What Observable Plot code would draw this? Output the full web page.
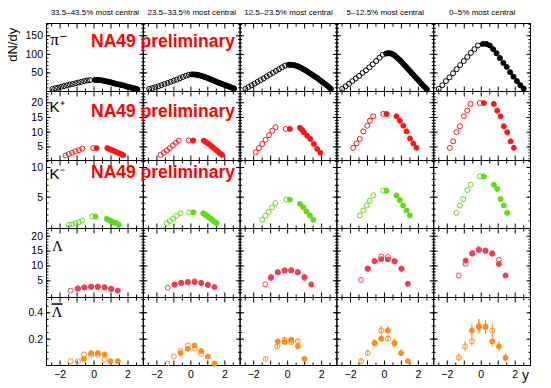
<!DOCTYPE html>
<html>
<head>
<meta charset="utf-8">
<script src="https://cdn.jsdelivr.net/npm/d3@7"></script>
<script src="https://cdn.jsdelivr.net/npm/@observablehq/plot@0.6"></script>
<style>
  body { margin: 0; background: #fff; font-family: "Liberation Sans", Arial, sans-serif; }
  #chart { width: 551px; height: 388px; }
  #chart svg { display: block; }
</style>
</head>
<body>
<div id="chart"></div>
<script>
// ---------- categories & tick labels ----------
const centralities = ["33.5–43.5% most central", "23.5–33.5% most central", "12.5–23.5% most central", "5–12.5% most central", "0–5% most central"];
const xTickLabels = [-2, 0, 2];
const xMajorTicks = [-2, -1, 0, 1, 2];
const xMinorTicks = [-2.5, -1.5, -0.5, 0.5, 1.5, 2.5];
const pimTicks = [50, 100, 150];
const kpTicks = [5, 10, 15, 20];
const kmTicks = [5, 10];
const lamTicks = [5, 10, 15, 20];
const albTicks = [0.2, 0.4];

// ---------- pi- : [y, dN/dy] per centrality ----------
const pimOpen = [
  [[-2.45,7],[-2.28,9],[-2.11,10.5],[-1.94,12.5],[-1.77,14.5],[-1.6,16.5],[-1.43,18.5],[-1.26,20],[-1.09,22],[-0.92,24],[-0.75,26],[-0.58,28],[-0.41,29.5],[-0.24,30.5]],
  [[-2.45,7],[-2.27,9],[-2.09,11.5],[-1.91,14],[-1.73,17],[-1.55,20],[-1.37,23],[-1.19,26],[-1.01,29],[-0.83,32],[-0.65,35.5],[-0.47,39],[-0.29,42.5],[-0.12,45]],
  [[-2.49,7],[-2.31,12],[-2.13,16.5],[-1.95,21],[-1.77,26],[-1.59,30.5],[-1.41,35.5],[-1.23,40.5],[-1.05,45.5],[-0.87,50.5],[-0.69,55.5],[-0.51,60],[-0.33,65],[-0.15,69.5]],
  [[-2.49,7],[-2.29,14],[-2.09,21],[-1.89,28],[-1.69,35],[-1.49,42],[-1.29,50],[-1.09,57],[-0.89,65],[-0.69,73],[-0.49,82],[-0.29,91],[-0.1,99]],
  [[-2.5,7],[-2.29,17],[-2.08,28],[-1.87,38],[-1.66,49],[-1.45,60],[-1.24,71],[-1.03,82],[-0.82,93],[-0.61,104],[-0.4,114],[-0.19,124]]
];
const pimFilled = [
  [[0.05,31],[0.15,31],[0.25,31],[0.35,30.5],[0.45,30],[0.55,29],[0.65,28],[0.75,27],[0.85,26],[0.95,25],[1.05,24],[1.15,22.5],[1.25,21],[1.35,20],[1.45,19],[1.55,18],[1.65,17],[1.75,16],[1.85,14.5],[1.95,13],[2.05,12],[2.15,11],[2.25,9.5],[2.35,8.5],[2.45,7.5],[2.55,6]],
  [[0.05,46],[0.15,46],[0.25,45.5],[0.35,45],[0.45,44],[0.55,43],[0.65,41.5],[0.75,40],[0.85,38.5],[0.95,37],[1.05,35],[1.15,33],[1.25,31],[1.35,29.5],[1.45,27.5],[1.55,25.5],[1.65,23.5],[1.75,22],[1.85,20],[1.95,18.5],[2.05,16.5],[2.15,15],[2.25,13],[2.35,11.5],[2.45,9.5],[2.55,8]],
  [[0.05,72],[0.15,72],[0.25,71.5],[0.35,71],[0.45,70],[0.55,68.5],[0.65,66.5],[0.75,64.5],[0.85,62],[0.95,59.5],[1.05,57],[1.15,54],[1.25,51],[1.35,48],[1.45,45],[1.55,42],[1.65,39],[1.75,36],[1.85,32.5],[1.95,29],[2.05,25.5],[2.15,22],[2.25,18.5],[2.35,15],[2.45,11],[2.55,7]],
  [[0.1,102],[0.2,103],[0.3,103],[0.4,102],[0.5,100],[0.6,97],[0.7,93],[0.8,89],[0.9,85],[1.0,80],[1.1,75],[1.2,70],[1.3,65],[1.4,60],[1.5,55],[1.6,50],[1.7,45],[1.8,40],[1.9,35],[2.0,30],[2.1,25],[2.2,20],[2.3,15],[2.4,11],[2.5,6]],
  [[0.1,128],[0.3,128],[0.5,124],[0.7,114],[0.9,103],[1.1,90],[1.3,77],[1.5,66],[1.7,52],[1.9,40],[2.1,28],[2.3,17],[2.5,8]]
];

// ---------- K+ ----------
const kpOpen = [
  [[-1.68,2.1],[-1.49,2.6],[-1.29,3.0],[-1.09,3.5],[-0.89,3.9],[-0.69,4.4],[-0.05,4.6]],
  [[-1.78,2.3],[-1.6,3.0],[-1.42,3.8],[-1.24,4.6],[-1.06,5.5],[-0.88,6.4],[-0.71,7.1],[-0.12,7.2]],
  [[-1.88,3.2],[-1.69,4.6],[-1.5,6.0],[-1.3,7.4],[-1.1,9.0],[-0.9,10.5],[-0.71,11.7],[-0.12,11.1]],
  [[-1.84,4.7],[-1.64,6.2],[-1.45,7.7],[-1.25,10.3],[-1.01,12.2],[-0.86,13.9],[-0.66,15.4],[-0.07,16.2]],
  [[-1.85,4.7],[-1.65,6.9],[-1.46,10],[-1.26,12],[-1.02,15.4],[-0.82,17.3],[-0.63,19.6],[-0.08,19.9]]
];
const kpFilled = [
  [[0.15,4.6],[0.78,4.6],[0.9,4.3],[1.02,4.0],[1.14,3.7],[1.26,3.4],[1.38,3.1],[1.5,2.8],[1.62,2.5],[1.72,2.2]],
  [[0.14,7.2],[0.76,7.1],[0.88,6.7],[1.0,6.2],[1.12,5.7],[1.24,5.1],[1.36,4.6],[1.48,4.0],[1.6,3.4],[1.72,2.8],[1.84,2.3]],
  [[0.13,11.1],[0.72,11.5],[0.85,10.8],[0.95,10.0],[1.15,8.8],[1.34,7.7],[1.54,6.0],[1.74,4.3],[1.93,3.0]],
  [[0.12,16.2],[0.71,15.4],[0.91,13.9],[1.11,12.2],[1.3,10.3],[1.5,7.9],[1.7,6.2],[1.89,4.7]],
  [[0.15,19.9],[0.74,19.6],[0.94,17.3],[1.14,15.4],[1.33,12],[1.53,10],[1.73,6.9],[1.92,4.7]]
];

// ---------- K- ----------
const kmOpen = [
  [[-1.48,0.35],[-1.28,0.45],[-1.09,0.62],[-0.9,0.8],[-0.69,1.08],[-0.1,1.75]],
  [[-1.43,0.62],[-1.24,1.0],[-1.04,1.4],[-0.84,1.85],[-0.61,2.3],[-0.1,2.45]],
  [[-1.5,1.2],[-1.31,1.9],[-1.11,2.5],[-0.91,3.3],[-0.72,4.0],[-0.07,4.6]],
  [[-1.45,1.92],[-1.25,2.76],[-1.05,3.6],[-0.86,4.4],[-0.66,5.3],[-0.07,6.1]],
  [[-1.45,2.37],[-1.26,3.6],[-1.06,4.7],[-0.82,6.2],[-0.63,7.1],[-0.08,8.5]]
];
const kmFilled = [
  [[0.09,1.75],[0.74,1.36],[0.84,1.2],[0.93,1.08],[1.03,0.94],[1.13,0.8],[1.23,0.7],[1.33,0.62],[1.46,0.35]],
  [[0.15,2.45],[0.73,2.3],[0.83,2.1],[0.93,1.9],[1.02,1.7],[1.12,1.5],[1.22,1.27],[1.32,1.05],[1.42,0.84],[1.52,0.63]],
  [[0.13,4.6],[0.72,3.9],[0.92,3.3],[1.11,2.6],[1.31,1.9],[1.51,1.2]],
  [[0.12,6.1],[0.71,5.3],[0.91,4.5],[1.1,3.6],[1.3,2.76],[1.5,1.92]],
  [[0.15,8.5],[0.74,7.1],[0.94,6.4],[1.14,4.7],[1.33,3.6],[1.53,2.37]]
];

// ---------- Lambda ----------
const lamOpen = [
  [[-1.38,1.7],[-0.97,2.4],[-0.58,2.8],[-0.18,3.0],[0.22,3.0],[0.62,2.8],[1.01,2.2]],
  [[-1.36,2.7],[-0.96,3.8],[-0.57,4.4],[-0.18,4.6],[0.22,4.8],[0.61,4.3],[1.0,3.6]],
  [[-1.32,3.8],[-0.98,6.3],[-0.58,7.9],[-0.18,8.5],[0.21,8.6],[0.6,7.9],[0.99,6.0]],
  [[-1.38,5.3],[-0.98,9.1],[-0.58,11.6],[-0.19,13.2],[0.2,13.0],[0.6,11.6],[1.0,9.1]],
  [[-1.32,6.8],[-0.92,10.7],[-0.53,14.1],[-0.14,15.6],[0.25,15.0],[0.65,14.3],[1.04,12.1]]
];
const lamFilled = [
  [[-0.95,2.4],[-0.56,2.8],[-0.16,3.0],[0.22,3.0],[0.62,2.8],[1.01,2.4],[1.4,1.7]],
  [[-0.96,3.7],[-0.57,4.3],[-0.18,4.6],[0.22,4.6],[0.61,4.3],[1.0,3.7],[1.39,2.9]],
  [[-0.98,6.0],[-0.58,7.9],[-0.18,8.5],[0.21,8.5],[0.6,7.9],[0.99,6.3],[1.39,3.8]],
  [[-0.98,9.1],[-0.58,11.6],[-0.19,12.3],[0.2,12.2],[0.6,11.6],[1.0,9.1],[1.38,4.0]],
  [[-0.92,11.8],[-0.53,14.3],[-0.14,15.4],[0.25,15.2],[0.65,14.1],[1.04,10.7],[1.43,6.8]]
];

// ---------- anti-Lambda : [y, dN/dy, error] ----------
const albOpen = [
  [[-1.38,0.033,0],[-0.95,0.033,0],[-0.6,0.084,0],[-0.17,0.08,0],[0.22,0.08,0],[0.62,0.046,0]],
  [[-1.39,0.014,0],[-1.0,0.069,0],[-0.61,0.11,0],[-0.18,0.152,0],[0.22,0.127,0],[0.61,0.089,0]],
  [[-1.3,0.05,0.01],[-0.61,0.145,0.015],[-0.18,0.195,0.015],[0.21,0.178,0.015],[0.6,0.185,0.015]],
  [[-1.37,0.033,0.015],[-0.98,0.094,0.025],[-0.58,0.17,0.03],[-0.19,0.266,0.03],[0.2,0.203,0.03],[0.59,0.17,0.03]],
  [[-1.32,0.059,0.03],[-0.95,0.145,0.035],[-0.55,0.183,0.04],[-0.14,0.3,0.05],[0.25,0.29,0.05],[0.65,0.266,0.05]]
];
const albFilled = [
  [[-0.6,0.05,0],[-0.17,0.094,0],[0.22,0.094,0],[0.62,0.084,0],[0.97,0.033,0],[1.4,0.033,0]],
  [[-0.61,0.094,0],[-0.18,0.127,0],[0.22,0.152,0],[0.61,0.11,0],[1.0,0.069,0],[1.4,0.014,0]],
  [[-0.58,0.183,0.015],[-0.18,0.178,0.015],[0.21,0.195,0.015],[0.6,0.145,0.015],[0.99,0.05,0.01]],
  [[-0.58,0.17,0.025],[-0.19,0.203,0.03],[0.2,0.266,0.03],[0.59,0.17,0.03],[0.98,0.094,0.025],[1.38,0.033,0.02]],
  [[-0.55,0.266,0.05],[-0.14,0.291,0.055],[0.25,0.296,0.045],[0.65,0.183,0.045],[1.04,0.145,0.04],[1.43,0.059,0.03]]
];

// ---------- layout / styling ----------
const SERIF = "Liberation Serif, DejaVu Serif, serif";
const SANS = "Liberation Sans, Arial, sans-serif";
const fmt = d3.format("~r");
const rows = [
  {open: pimOpen, filled: pimFilled, color: "#000000", domain: [0, 183], ticks: pimTicks, minor: d3.range(10, 181, 10),
   height: 91, mt: 23, mb: 0, label: "π⁻", labelFont: SERIF, labelSize: 17, labelPos: [-2.58, 124], prelimY: 121},
  {open: kpOpen, filled: kpFilled, color: "#ff1414", domain: [0.4, 23.8], ticks: kpTicks, minor: d3.range(1, 24, 1),
   height: 69, mt: 0, mb: 0, label: "K⁺", labelFont: SANS, labelSize: 15, labelPos: [-2.62, 16.9], prelimY: 15.3},
  {open: kmOpen, filled: kmFilled, color: "#5edc14", domain: [-0.27, 11.18], ticks: kmTicks, minor: d3.range(1, 12, 1),
   height: 68, mt: 0, mb: 0, label: "K⁻", labelFont: SANS, labelSize: 15, labelPos: [-2.62, 8.03], prelimY: 8.15},
  {open: lamOpen, filled: lamFilled, color: "#f23c4c", domain: [-0.6, 22.6], ticks: lamTicks, minor: d3.range(1, 23, 1),
   height: 69, mt: 0, mb: 0, label: "Λ", labelFont: SERIF, labelSize: 15, labelPos: [-2.47, 15.2], prelimY: null},
  {open: albOpen, filled: albFilled, color: "#ff8a1e", domain: [0, 0.516], ticks: albTicks, minor: d3.range(0.05, 0.52, 0.05),
   height: 91, mt: 0, mb: 23, label: "Λ", overline: true, labelFont: SERIF, labelSize: 15, labelPos: [-2.5, 0.366], prelimY: null}
];

function toRecords(sets) {
  return sets.flatMap((pts, c) => pts.map(([x, y, e]) => ({col: centralities[c], x, y, e: e || 0})));
}

function rowPlot(cfg, i) {
  const isTop = i === 0, isBottom = i === rows.length - 1;
  const open = toRecords(cfg.open);
  const filled = toRecords(cfg.filled);
  const errs = open.concat(filled).filter(d => d.e > 0);
  const first = centralities[0];
  const tk = {fill: "none", label: null, stroke: "black"};
  const marks = [
    Plot.axisX({...tk, anchor: "bottom", ticks: xMajorTicks, tickSize: -4.5}),
    Plot.axisX({...tk, anchor: "bottom", ticks: xMinorTicks, tickSize: -2.5}),
    Plot.axisX({...tk, anchor: "top", ticks: xMajorTicks, tickSize: -4.5}),
    Plot.axisX({...tk, anchor: "top", ticks: xMinorTicks, tickSize: -2.5}),
    Plot.axisY({...tk, anchor: "left", ticks: cfg.ticks, tickSize: -4.5, facetAnchor: null}),
    Plot.axisY({...tk, anchor: "left", ticks: cfg.minor, tickSize: -2.5, facetAnchor: null}),
    Plot.axisY({...tk, anchor: "right", ticks: cfg.ticks, tickSize: -4.5, facetAnchor: null}),
    Plot.axisY({...tk, anchor: "right", ticks: cfg.minor, tickSize: -2.5, facetAnchor: null}),
    Plot.axisY({anchor: "left", ticks: cfg.ticks, tickSize: 0, tickPadding: 3.5, label: null, fontSize: 10.5, tickFormat: fmt}),
    Plot.frame({stroke: "black", strokeWidth: 1}),
    Plot.ruleX(errs, {fx: "col", x: "x", y1: d => d.y - d.e, y2: d => d.y + d.e, stroke: cfg.color, strokeWidth: 1}),
    Plot.dot(open, {fx: "col", x: "x", y: "y", r: 2.5, stroke: cfg.color, fill: "none", strokeWidth: 1}),
    Plot.dot(filled, {fx: "col", x: "x", y: "y", r: 2.5, stroke: cfg.color, fill: cfg.color, strokeWidth: 1}),
    Plot.text([{col: first, x: cfg.labelPos[0], y: cfg.labelPos[1], t: cfg.label}],
      {fx: "col", x: "x", y: "y", text: "t", textAnchor: "start", lineAnchor: "bottom",
       fontSize: cfg.labelSize, fontFamily: cfg.labelFont, fill: "black"})
  ];
  if (cfg.prelimY != null) {
    marks.push(Plot.text([{col: first, x: -0.18, y: cfg.prelimY, t: "NA49 preliminary"}],
      {fx: "col", x: "x", y: "y", text: "t", textAnchor: "start", lineAnchor: "bottom",
       fontSize: 17.5, fontWeight: "bold", fontFamily: SANS, fill: "#ff0000"}));
  }
  if (isTop) {
    marks.push(Plot.axisFx({anchor: "top", tickSize: 0, tickPadding: 8.5, label: null, fontSize: 8}));
    marks.push(Plot.text([{col: first, t: "dN/dy"}],
      {fx: "col", text: "t", frameAnchor: "top-left", rotate: -90, textAnchor: "end", lineAnchor: "bottom",
       dx: -30, dy: 4.3, fontSize: 13, fontFamily: SANS}));
  }
  if (isBottom) {
    marks.push(Plot.axisX({anchor: "bottom", ticks: xTickLabels, tickSize: 0, tickPadding: 5, label: null, fontSize: 10.5, tickFormat: fmt}));
    marks.push(Plot.text([{col: centralities[4], t: "y"}],
      {fx: "col", text: "t", frameAnchor: "bottom-right", textAnchor: "end", lineAnchor: "bottom",
       dx: -1.5, dy: 14.5, fontSize: 14, fontFamily: SANS}));
  }
  const svg = Plot.plot({
    width: 551,
    height: cfg.height,
    marginLeft: 46,
    marginRight: 21,
    marginTop: cfg.mt,
    marginBottom: cfg.mb,
    style: {fontFamily: SANS, fontSize: "10.5px", background: "white", overflow: "visible", color: "black"},
    fx: {domain: centralities, paddingInner: 0, paddingOuter: 0, round: false, axis: null, label: null},
    x: {domain: [-2.8, 2.9], label: null},
    y: {domain: cfg.domain, label: null},
    marks
  });
  if (cfg.overline) {
    // anti-particle bar over the Λ label
    svg.querySelectorAll("text").forEach(t => {
      if (t.textContent === cfg.label) t.style.textDecoration = "overline";
    });
  }
  return svg;
}

const chart = document.getElementById("chart");
rows.forEach((cfg, i) => chart.appendChild(rowPlot(cfg, i)));
</script>
</body>
</html>
